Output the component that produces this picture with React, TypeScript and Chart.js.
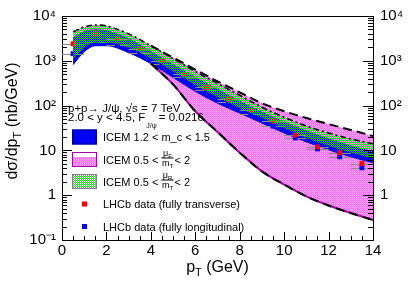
import React, { useEffect, useRef } from 'react';
import { Chart, registerables } from 'chart.js';

Chart.register(...registerables);

const FONT = "'Liberation Sans', Arial, Helvetica, sans-serif";

// Theory band grid (pT, GeV)
const bandPT = [0.5, 1, 1.5, 2, 3, 4, 5, 6, 7, 8, 9, 10, 11, 12, 13, 14];
// ICEM 1.2 < m_c < 1.5
const mcUpper = [3260, 4430, 4900, 4660, 3100, 1600, 824, 425, 231, 125, 71, 43, 27.2, 18.1, 12.6, 9.3];
const mcLower = [824, 1600, 2170, 2170, 1520, 867, 425, 208, 113, 68, 40.8, 24.5, 15.5, 10.3, 7.2, 5.3];
// ICEM 0.5 < muF/mT < 2
const muFUpper = [4430, 5710, 6320, 6010, 4000, 2170, 1180, 638, 347, 198, 113, 75, 53, 38.7, 28.6, 21];
const muFLower = [824, 1600, 2170, 2170, 1520, 867, 297, 75, 25.8, 8.9, 3.4, 1.73, 0.94, 0.59, 0.4, 0.28];
// ICEM 0.5 < muR/mT < 2
const muRUpper = [4430, 5710, 6320, 6010, 4000, 2170, 1120, 577, 313, 170, 92, 55, 35, 24.5, 18.1, 14];
const muRLower = [1060, 1960, 2530, 2530, 1960, 1120, 577, 283, 153, 87.5, 52.6, 31.6, 19, 12.6, 8.9, 6.5];

// LHCb data
const dataPT = [0.5, 1.5, 2.5, 3.5, 4.5, 5.5, 6.5, 7.5, 8.5, 9.5, 10.5, 11.5, 12.5, 13.5];
const transverse = [2400, 4000, 3100, 1860, 1010, 495, 255, 139, 79, 45, 22, 12, 8.9, 5.1];
const longitudinal = [1440, 2660, 2280, 1520, 867, 425, 219, 119, 65, 35, 19, 10.8, 7.2, 4.1];
const binHalfWidth = 0.5;

// Axis ticks
const xTicks = [0, 2, 4, 6, 8, 10, 12, 14];
const yTicks = [0.1, 1, 10, 100, 1000, 10000];
const yTickLabels = ['10⁻¹', '1', '10', '10²', '10³', '10⁴'];
const yTickLabelsRight = ['', '1', '10', '10²', '10³', '10⁴'];

function makePattern(ctx: CanvasRenderingContext2D, colors: (string | null)[][]) {
  const c = document.createElement('canvas');
  c.width = colors[0].length;
  c.height = colors.length;
  const g = c.getContext('2d')!;
  colors.forEach((row, y) =>
    row.forEach((col, x) => {
      if (col) {
        g.fillStyle = col;
        g.fillRect(x, y, 1, 1);
      }
    })
  );
  return ctx.createPattern(c, 'repeat')!;
}

type Part = [string, number, number];
function richWidth(ctx: CanvasRenderingContext2D, parts: Part[]) {
  let w = 0;
  for (const [t, s] of parts) {
    ctx.font = `${s}px ${FONT}`;
    w += ctx.measureText(t).width;
  }
  return w;
}
function rich(ctx: CanvasRenderingContext2D, x: number, y: number, parts: Part[]) {
  let cx = x;
  for (const [t, s, dy] of parts) {
    ctx.font = `${s}px ${FONT}`;
    ctx.fillText(t, cx, y + dy);
    cx += ctx.measureText(t).width;
  }
  return cx;
}
function fraction(ctx: CanvasRenderingContext2D, x: number, c: number, sub: string) {
  const num: Part[] = [['μ', 9, 0], [sub, 6, 2]];
  const den: Part[] = [['m', 9, 0], ['T', 6, 2]];
  const wn = richWidth(ctx, num);
  const wd = richWidth(ctx, den);
  const w = Math.max(wn, wd) + 1;
  rich(ctx, x + (w - wn) / 2, c - 4, num);
  rich(ctx, x + (w - wd) / 2, c + 6, den);
  ctx.fillRect(x, c - 2, w, 1);
  return x + w;
}

export default function App() {
  const ref = useRef<HTMLCanvasElement>(null);

  useEffect(() => {
    const canvas = ref.current!;
    const ctx0 = canvas.getContext('2d')!;
    const pink = makePattern(ctx0, [['#ff66ff', '#ffaaff'], ['#ffaaff', '#ff66ff']]);
    const blue = makePattern(ctx0, [['#0000ff', '#0000ff'], ['#0000ff', '#0000b4']]);
    const green = makePattern(ctx0, [['#00e600', null], [null, '#00e600']]);

    const pts = (xs: number[], ys: number[]) => xs.map((x, i) => ({ x, y: ys[i] }));
    const from4 = (xs: number[], ys: number[]) => pts(xs, ys).filter((p) => p.x >= 4);

    const errorBars = {
      id: 'errorBars',
      beforeDatasetDraw(chart: any, args: any) {
        if (args.index !== 2 && args.index !== 3) return;
        const { ctx, scales } = chart;
        const ds = chart.data.datasets[args.index];
        ctx.save();
        ctx.strokeStyle = '#8c8c8c';
        ctx.lineWidth = 1;
        ctx.beginPath();
        for (const p of ds.data) {
          const py = Math.round(scales.y.getPixelForValue(p.y)) + 0.5;
          ctx.moveTo(scales.x.getPixelForValue(p.x - binHalfWidth), py);
          ctx.lineTo(scales.x.getPixelForValue(p.x + binHalfWidth), py);
        }
        ctx.stroke();
        ctx.restore();
      },
    };

    const frame = {
      id: 'frame',
      afterDraw(chart: any) {
        const { ctx, chartArea: a, scales } = chart;
        const xs = scales.x;
        const ys = scales.y;
        ctx.save();
        ctx.strokeStyle = '#000';
        ctx.lineWidth = 1;
        ctx.beginPath();
        ctx.moveTo(a.left, a.top + 0.5);
        ctx.lineTo(a.right, a.top + 0.5);
        for (let e = -1; e <= 4; e++) {
          for (let m = 1; m < 10; m++) {
            const v = m * Math.pow(10, e);
            if (v > 10000.001) break;
            const py = Math.round(ys.getPixelForValue(v)) + 0.5;
            const len = m === 1 ? 10 : 5;
            ctx.moveTo(a.left, py);
            ctx.lineTo(a.left + len, py);
            ctx.moveTo(a.right, py);
            ctx.lineTo(a.right - len, py);
          }
        }
        for (let i = 0; i <= 28; i++) {
          const v = i * 0.5;
          const px = Math.round(xs.getPixelForValue(v)) + 0.5;
          const len = i % 4 === 0 ? 8 : 4;
          ctx.moveTo(px, a.bottom);
          ctx.lineTo(px, a.bottom - len);
        }
        ctx.stroke();

        // axis titles
        ctx.fillStyle = '#000';
        ctx.textBaseline = 'alphabetic';
        ctx.textAlign = 'left';
        const xt: Part[] = [['p', 16, 0], ['T', 11, 4], [' (GeV)', 16, 0]];
        const xw = richWidth(ctx, xt);
        rich(ctx, (a.left + a.right) / 2 - xw / 2, 272, xt);

        const yt: Part[] = [['dσ/dp', 16, 0], ['T', 11, 4], [' (nb/GeV)', 16, 0]];
        const yw = richWidth(ctx, yt);
        ctx.save();
        ctx.translate(16.5, 121);
        ctx.rotate(-Math.PI / 2);
        rich(ctx, -yw / 2, 0, yt);
        ctx.restore();

        // header text
        rich(ctx, 68, 112, [['p+p→ J/ψ, √s = 7 TeV', 11.5, 0]]);
        let cx = rich(ctx, 68, 121, [['2.0 < y < 4.5, F', 11.5, 0]]);
        cx = rich(ctx, cx + 1, 121, [['J/ψ', 7, 7]]);
        rich(ctx, cx + 2, 121, [['= 0.0216', 11.5, 0]]);

        // legend
        const bx = 72;
        const bw = 25;
        const bh = 15;
        const rows = [137, 159.5, 181.5, 204, 226.5];
        ctx.fillStyle = blue;
        ctx.fillRect(bx, rows[0] - bh / 2, bw, bh);
        ctx.strokeStyle = '#00008b';
        ctx.strokeRect(bx + 0.5, rows[0] - bh / 2 + 0.5, bw - 1, bh - 1);
        ctx.fillStyle = '#ffffff';
        ctx.fillRect(bx, rows[1] - bh / 2, bw, bh);
        ctx.fillStyle = pink;
        ctx.fillRect(bx, rows[1] - bh / 2 + 5, bw, bh - 5);
        ctx.strokeStyle = '#aa00aa';
        ctx.strokeRect(bx + 0.5, rows[1] - bh / 2 + 0.5, bw - 1, bh - 1);
        ctx.fillStyle = green;
        ctx.fillRect(bx, rows[2] - bh / 2, bw, bh);
        ctx.strokeStyle = '#808080';
        ctx.strokeRect(bx + 0.5, rows[2] - bh / 2 + 0.5, bw - 1, bh - 1);
        ctx.fillStyle = '#ff0000';
        ctx.fillRect(bx + 10, rows[3] - 2.5, 5, 5);
        ctx.fillStyle = '#0000ff';
        ctx.fillRect(bx + 10, rows[4] - 2.5, 5, 5);

        ctx.fillStyle = '#000';
        const tx = 103;
        rich(ctx, tx, rows[0] + 4, [['ICEM 1.2 < m_c < 1.5', 11, 0]]);
        let fx = rich(ctx, tx, rows[1] + 4, [['ICEM 0.5 < ', 11, 0]]);
        fx = fraction(ctx, fx, rows[1], 'F');
        rich(ctx, fx + 1, rows[1] + 4, [['< 2', 11, 0]]);
        fx = rich(ctx, tx, rows[2] + 4, [['ICEM 0.5 < ', 11, 0]]);
        fx = fraction(ctx, fx, rows[2], 'R');
        rich(ctx, fx + 1, rows[2] + 4, [['< 2', 11, 0]]);
        rich(ctx, tx, rows[3] + 4, [['LHCb data (fully transverse)', 11, 0]]);
        rich(ctx, tx, rows[4] + 4, [['LHCb data (fully longitudinal)', 11, 0]]);
        ctx.restore();
      },
    };

    const bandLine = { pointRadius: 0, borderWidth: 0, cubicInterpolationMode: 'monotone' as const };

    const yLabel = (labels: string[]) => (v: any) => {
      const i = yTicks.findIndex((t) => Math.abs(t - Number(v)) < t * 1e-6);
      return i >= 0 ? labels[i] : '';
    };
    const setYTicks = (s: any) => {
      s.ticks = yTicks.map((v) => ({ value: v }));
    };

    const chart = new Chart(canvas, {
      type: 'line',
      data: {
        datasets: [
          { ...bandLine, data: pts(bandPT, muFUpper), fill: '+1', backgroundColor: pink, borderColor: 'rgba(0,0,0,0)', order: 10 },
          { ...bandLine, data: pts(bandPT, muFLower), fill: false, borderColor: 'rgba(0,0,0,0)', order: 10 },
          { data: pts(dataPT, transverse), showLine: false, pointStyle: 'rect', pointRadius: 3.5, pointBorderWidth: 0, backgroundColor: '#ff0000', borderColor: '#ff0000', order: 5 },
          { data: pts(dataPT, longitudinal), showLine: false, pointStyle: 'rect', pointRadius: 3.5, pointBorderWidth: 0, backgroundColor: '#0000ff', borderColor: '#0000ff', order: 5 },
          { ...bandLine, data: pts(bandPT, mcUpper), fill: '+1', backgroundColor: blue, borderColor: '#0000a0', borderWidth: 1, order: 6 },
          { ...bandLine, data: pts(bandPT, mcLower), fill: false, borderColor: '#0000a0', borderWidth: 1, order: 6 },
          { ...bandLine, data: pts(bandPT, muRUpper), fill: '+1', backgroundColor: green, borderColor: 'rgba(0,0,0,0)', order: 4 },
          { ...bandLine, data: pts(bandPT, muRLower), fill: false, borderColor: 'rgba(0,0,0,0)', order: 4 },
          { ...bandLine, data: from4(bandPT, muFLower), fill: false, borderColor: '#a000a0', borderWidth: 2, order: 2 },
          { ...bandLine, data: from4(bandPT, muFLower), fill: false, borderColor: '#000', borderWidth: 2, borderDash: [9, 5], order: 1 },
          { ...bandLine, data: from4(bandPT, muFUpper), fill: false, borderColor: '#000', borderWidth: 2, borderDash: [9, 5], order: 1 },
          { ...bandLine, data: pts(bandPT, muRUpper), fill: false, borderColor: '#000', borderWidth: 1.5, borderDash: [6, 3, 2, 3], order: 1 },
        ],
      },
      options: {
        responsive: false,
        animation: false,
        devicePixelRatio: 1,
        layout: { padding: { top: 14, left: 0, right: 0, bottom: 0 } },
        plugins: { legend: { display: false }, tooltip: { enabled: false } },
        scales: {
          x: {
            type: 'linear',
            min: 0,
            max: 14,
            position: 'bottom',
            grid: { display: false, drawTicks: false },
            border: { display: true, color: '#000', width: 1 },
            ticks: { autoSkip: false, maxRotation: 0, color: '#000', padding: 2, font: { size: 15, family: FONT } },
            afterBuildTicks: (s: any) => {
              s.ticks = xTicks.map((v) => ({ value: v }));
            },
            afterFit: (s: any) => {
              s.height = 44;
            },
          },
          y: {
            type: 'logarithmic',
            min: 0.1,
            max: 10000,
            position: 'left',
            grid: { display: false, drawTicks: false },
            border: { display: true, color: '#000', width: 1 },
            ticks: { autoSkip: false, color: '#000', padding: 6, font: { size: 15, family: FONT }, callback: yLabel(yTickLabels) },
            afterBuildTicks: setYTicks,
            afterFit: (s: any) => {
              s.width = 62;
            },
          },
          y2: {
            type: 'logarithmic',
            display: true,
            min: 0.1,
            max: 10000,
            position: 'right',
            grid: { display: false, drawTicks: false },
            border: { display: true, color: '#000', width: 1 },
            ticks: { autoSkip: false, color: '#000', padding: 7, font: { size: 15, family: FONT }, callback: yLabel(yTickLabelsRight) },
            afterBuildTicks: setYTicks,
            afterFit: (s: any) => {
              s.width = 42;
            },
          },
        },
      } as any,
      plugins: [errorBars, frame],
    });
    return () => chart.destroy();
  }, []);

  return (
    <div style={{ position: 'fixed', left: 0, top: 0, width: 415, height: 284, background: '#fff' }}>
      <canvas ref={ref} width={415} height={284} style={{ display: 'block', width: 415, height: 284 }} />
    </div>
  );
}
